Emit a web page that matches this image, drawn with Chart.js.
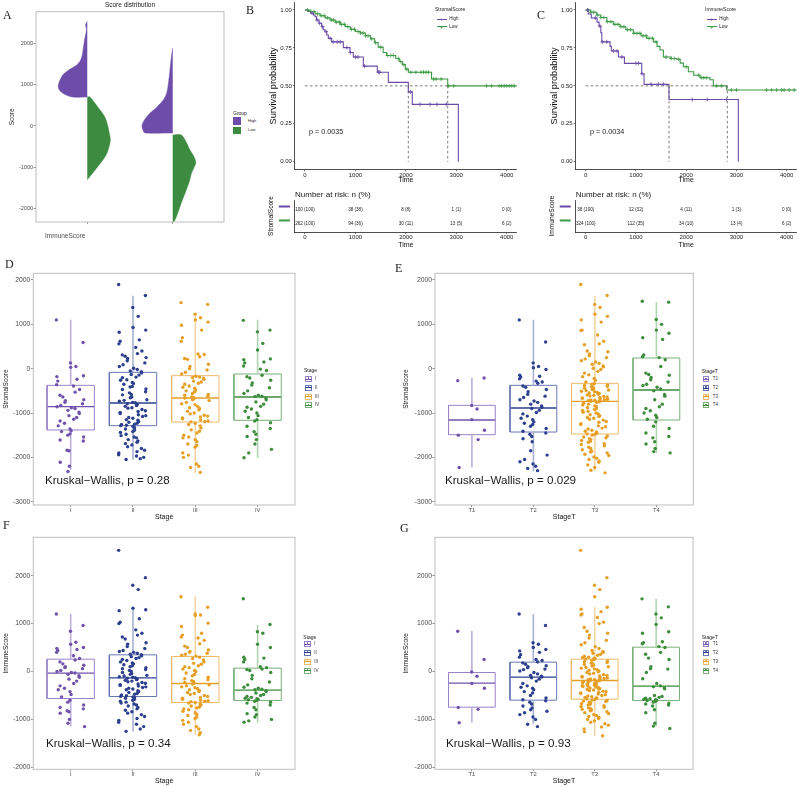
<!DOCTYPE html>
<html lang="en">
<head>
<meta charset="UTF-8">
<title>Score distribution, survival and stage</title>
<style>
  body { margin: 0; background: #fff; font-family: 'Liberation Sans', Arial, sans-serif; }
  #fig { position: relative; width: 799px; height: 787px; overflow: hidden; background: #fff; }
  #fig canvas { position: absolute; }
  .txt { position: absolute; white-space: nowrap; line-height: 1; color: #1a1a1a; }
  .key { position: absolute; box-sizing: border-box; }
</style>
</head>
<body>
<div id="fig"></div>

<script src="https://cdn.jsdelivr.net/npm/chart.js"></script>
<script>
// ---------------- data ----------------
// A: split violins (score level, half width in category units)
const vioCats = ['ImmuneScore', 'StromalScore'];
const v1HighY = [700, 700, 760, 850, 950, 1050, 1150, 1250, 1350, 1450, 1550, 1700, 1900, 2100, 2250, 2350, 2450, 2530];
const v1HighW = [0, .17, .26, .32, .34, .33, .31, .28, .22, .14, .09, .06, .045, .03, .015, .01, .02, 0];
const v1LowY = [700, 700, 550, 385, 200, 0, -200, -337, -500, -660, -800, -990, -1150, -1300];
const v1LowW = [0, .03, .09, .15, .21, .24, .26, .27, .255, .23, .19, .12, .06, 0];
const v2HighY = [-170, -170, -137, 0, 150, 305, 450, 626, 800, 1036, 1300, 1600, 1890];
const v2HighW = [0, .32, .34, .36, .33, .27, .19, .11, .07, .05, .035, .02, 0];
const v2LowY = [-217, -217, -400, -578, -750, -890, -1000, -1140, -1300, -1540, -1860, -2100, -2300, -2330];
const v2LowW = [0, .10, .16, .20, .25, .27, .25, .22, .20, .16, .10, .06, .02, 0];
const vioTicks = [-2000, -1000, 0, 1000, 2000];

// B / C: Kaplan-Meier step points (time, survival)
const kmTicksX = [0, 1000, 2000, 3000, 4000];
const kmTicksY = [0, 0.25, 0.5, 0.75, 1];
const bHighT = [0, 60, 110, 165, 200, 231, 280, 330, 360, 397, 430, 463, 529, 760, 892, 958, 1157, 1434, 1653, 2049, 2128, 3041];
const bHighS = [1, .99, .98, .967, .956, .934, .913, .89, .87, .857, .835, .813, .79, .752, .72, .69, .63, .59, .523, .46, .378, 0];
const bLowT = [0, 100, 200, 300, 400, 500, 600, 700, 800, 900, 1000, 1100, 1200, 1300, 1380, 1450, 1550, 1620, 1800, 1870, 1930, 1990, 2050, 2510, 2830, 4200];
const bLowS = [1, .99, .975, .962, .948, .934, .92, .905, .89, .872, .858, .848, .83, .81, .785, .755, .72, .70, .68, .66, .64, .61, .59, .545, .50, .50];
const bHighCens = [140, 240, 290, 350, 420, 500, 560, 640, 700, 830, 900, 1000, 1050, 1180, 1460, 1480, 2090, 2280, 2480, 2620, 2800];
const bLowCens = [50, 120, 180, 250, 320, 380, 450, 520, 560, 620, 680, 720, 780, 850, 920, 980, 1050, 1100, 1150, 1200, 1250, 1320, 1400, 1500, 1640, 1700, 1750, 1850, 1900, 1960, 2020, 2100, 2200, 2300, 2350, 2400, 2450, 2550, 2600, 2700, 2850, 2950, 3600, 3700, 3850, 3900, 3950, 4000, 4050, 4100, 4150];
const bMedHigh = 2049, bMedLow = 2830;

const cHighT = [0, 50, 110, 225, 265, 300, 320, 484, 510, 650, 770, 1114, 1161, 1658, 3038];
const cHighS = [1, .974, .947, .92, .894, .85, .79, .76, .73, .69, .648, .58, .51, .41, 0];
const cLowT = [0, 100, 219, 300, 418, 550, 683, 800, 948, 1100, 1214, 1347, 1420, 1479, 1546, 1700, 1811, 1880, 1943, 2043, 2150, 2275, 2474, 2540, 2806, 4200];
const cLowS = [1, .985, .967, .95, .923, .905, .89, .87, .846, .83, .813, .79, .76, .736, .69, .68, .675, .65, .626, .593, .57, .554, .54, .50, .473, .473];
const cHighCens = [40, 190, 280, 330, 420, 550, 620, 720, 1000, 1050, 1120, 1300, 1450, 1550, 2120, 2420, 2800];
const cLowCens = [40, 100, 160, 230, 300, 360, 430, 500, 580, 640, 700, 760, 830, 890, 960, 1020, 1080, 1140, 1200, 1260, 1330, 1400, 1600, 1700, 1760, 1850, 2000, 2250, 2300, 2350, 2400, 2600, 2700, 2900, 3000, 3600, 3700, 3800, 3900, 3950, 4050, 4150];
const cMedHigh = 1658, cMedLow = 2819;

// risk tables
const riskTimes = [0, 1000, 2000, 3000, 4000];
const bRiskHighN = [100, 38, 8, 1, 0], bRiskHighPct = [100, 38, 8, 1, 0];
const bRiskLowN = [262, 94, 30, 13, 6], bRiskLowPct = [100, 36, 11, 5, 2];
const cRiskHighN = [38, 12, 4, 1, 0], cRiskHighPct = [100, 32, 11, 3, 0];
const cRiskLowN = [324, 112, 34, 13, 6], cRiskLowPct = [100, 35, 10, 4, 2];

// D-G: box statistics and jittered samples
const stageCats = ['I', 'II', 'III', 'IV'];
const stageTCats = ['T1', 'T2', 'T3', 'T4'];
const deTicks = [-3000, -2000, -1000, 0, 1000, 2000];
const fgTicks = [-2000, -1000, 0, 1000, 2000];

const dLo = [-2278, -2053, -2353, -2015], dQ1 = [-1383, -1286, -1203, -1165], dMed = [-857, -774, -662, -639], dQ3 = [-376, -83, -158, -120], dHi = [1105, 1647, 1256, 1105];
const eLo = [-2226, -2316, -2316, -1902], eQ1 = [-1489, -1429, -1474, -1158], eMed = [-1158, -887, -737, -481], eQ3 = [-827, -376, -331, 241], eHi = [-211, 1105, 1647, 1496];
const fLo = [-1148, -1253, -1322, -1065], fQ1 = [-564, -522, -647, -605], fMed = [-35, -132, -251, -390], fQ3 = [257, 348, 313, 70], fHi = [1204, 1287, 1566, 974];
const gLo = [-1065, -1093, -1343, -1148], gQ1 = [-745, -598, -578, -605], gMed = [-244, -118, -188, -306], gQ3 = [-21, 195, 257, 508], gHi = [849, 1197, 1343, 1517];

const dStageI = [1100, 590, 130, 50, 30, -160, -180, -240, -280, -360, -390, -470, -530, -600, -640, -700, -720, -760, -790, -830, -860, -880, -900, -940, -980, -1010, -1060, -1100, -1140, -1180, -1230, -1290, -1360, -1400, -1420, -1470, -1500, -1540, -1610, -1630, -1840, -1850, -2110, -2200, -2320];
const dStageII = [1900, 1650, 1380, 1180, 930, 870, 820, 650, 620, 560, 480, 400, 340, 310, 280, 250, 230, 180, 130, 90, 50, 10, -20, -50, -70, -95, -130, -145, -190, -205, -250, -262, -310, -335, -350, -400, -415, -460, -470, -520, -545, -580, -590, -640, -655, -700, -715, -735, -760, -770, -790, -805, -830, -850, -880, -890, -920, -950, -965, -990, -1010, -1040, -1060, -1080, -1100, -1120, -1150, -1160, -1190, -1210, -1230, -1250, -1260, -1275, -1285, -1300, -1330, -1360, -1390, -1420, -1440, -1480, -1510, -1540, -1560, -1600, -1630, -1660, -1690, -1720, -1760, -1800, -1840, -1870, -1900, -1940, -1970, -2000, -2030, -2050];
const dStageIII = [1490, 1450, 1230, 1150, 1100, 1050, 980, 870, 700, 620, 330, 320, 270, 230, 210, 100, 50, 0, -30, -80, -120, -170, -190, -200, -215, -240, -280, -300, -330, -350, -390, -420, -440, -480, -500, -520, -560, -580, -600, -620, -640, -650, -660, -680, -700, -720, -760, -790, -810, -850, -880, -900, -930, -960, -1000, -1020, -1050, -1070, -1090, -1110, -1130, -1160, -1180, -1190, -1200, -1230, -1260, -1290, -1340, -1380, -1410, -1450, -1500, -1540, -1560, -1600, -1650, -1700, -1730, -1770, -1900, -1950, -2000, -2150, -2200, -2230, -2340];
const dStageIV = [1090, 870, 830, 570, 420, 220, 200, 150, 130, 60, -10, -40, -150, -180, -210, -260, -320, -370, -430, -500, -560, -600, -620, -630, -660, -700, -750, -800, -850, -870, -910, -960, -1000, -1060, -1100, -1150, -1180, -1220, -1300, -1350, -1420, -1480, -1530, -1600, -1700, -1820, -1900, -2010];

const eT1 = [-270, -210, -830, -910, -1150, -1390, -1500, -1600, -2230];
const eT2 = [1100, 600, 130, 50, 20, -20, -150, -170, -190, -230, -280, -300, -330, -390, -420, -470, -520, -580, -620, -650, -700, -730, -760, -800, -840, -870, -900, -940, -990, -1020, -1070, -1120, -1150, -1200, -1230, -1260, -1300, -1350, -1410, -1450, -1480, -1530, -1580, -1650, -1850, -1950, -2050, -2100, -2150, -2200, -2250, -2300];
const eT3 = [1900, 1650, 1450, 1380, 1230, 1180, 1100, 1050, 870, 860, 760, 620, 560, 540, 400, 380, 330, 290, 250, 220, 180, 150, 120, 100, 60, 40, 10, -20, -60, -100, -140, -180, -220, -260, -300, -340, -350, -365, -380, -395, -410, -425, -440, -455, -470, -480, -495, -510, -520, -535, -550, -560, -575, -590, -600, -615, -625, -640, -650, -660, -670, -680, -690, -700, -705, -710, -720, -725, -730, -735, -745, -760, -780, -800, -820, -840, -860, -880, -900, -920, -940, -960, -985, -1000, -1020, -1040, -1060, -1080, -1100, -1120, -1140, -1160, -1190, -1210, -1240, -1260, -1290, -1310, -1340, -1360, -1390, -1410, -1430, -1450, -1470, -1480, -1500, -1520, -1540, -1560, -1580, -1600, -1620, -1640, -1660, -1690, -1710, -1740, -1770, -1800, -1830, -1860, -1880, -1900, -1930, -1960, -1990, -2020, -2050, -2080, -2110, -2170, -2230, -2290, -2350];
const eT4 = [1520, 1500, 1110, 1000, 870, 800, 700, 660, 310, 270, 250, 200, 50, -100, -130, -150, -200, -250, -300, -350, -380, -420, -460, -500, -580, -620, -700, -800, -860, -900, -950, -1000, -1050, -1100, -1140, -1200, -1300, -1350, -1450, -1530, -1560, -1650, -1700, -1800, -1870, -1900];

const fStageI = [1200, 960, 840, 610, 570, 500, 480, 460, 440, 400, 330, 270, 240, 200, 160, 130, 100, 80, 60, 20, 0, -20, -30, -60, -90, -120, -160, -200, -250, -300, -350, -380, -420, -480, -530, -600, -640, -700, -750, -780, -820, -840, -870, -1000, -1080, -1150];
const fStageII = [2530, 1960, 1800, 1710, 1320, 1290, 1270, 1100, 1030, 1000, 870, 800, 760, 720, 680, 600, 570, 520, 480, 440, 420, 400, 380, 360, 350, 330, 310, 290, 270, 250, 230, 200, 180, 160, 140, 120, 100, 80, 60, 40, 20, 0, -20, -40, -60, -80, -95, -110, -120, -130, -140, -155, -170, -185, -200, -215, -230, -245, -260, -275, -290, -305, -320, -335, -350, -365, -380, -400, -420, -440, -460, -475, -490, -505, -520, -530, -545, -560, -580, -600, -620, -640, -660, -680, -700, -720, -750, -780, -810, -840, -870, -900, -940, -980, -1020, -1060, -1100, -1150, -1200, -1250];
const fStageIII = [1560, 1340, 1200, 1180, 1170, 1010, 940, 800, 760, 720, 700, 650, 580, 530, 500, 450, 420, 400, 380, 360, 340, 320, 300, 270, 240, 200, 170, 150, 120, 100, 80, 50, 20, 0, -30, -60, -90, -120, -150, -170, -190, -210, -230, -245, -260, -280, -300, -320, -340, -360, -380, -400, -420, -440, -460, -480, -500, -520, -540, -560, -580, -600, -610, -620, -630, -645, -660, -680, -700, -720, -740, -760, -780, -800, -830, -860, -890, -920, -950, -980, -1020, -1060, -1100, -1150, -1200, -1230, -1280, -1320];
const fStageIV = [1520, 980, 830, 800, 570, 500, 300, 280, 250, 200, 100, 80, 50, 40, 20, -20, -80, -150, -220, -280, -330, -350, -370, -380, -400, -420, -450, -480, -500, -520, -540, -560, -570, -580, -590, -600, -620, -640, -660, -700, -750, -800, -880, -900, -950, -1000, -1030, -1060];

const gT1 = [840, 250, -10, -100, -250, -350, -750, -790, -1070];
const gT2 = [1200, 960, 600, 570, 500, 460, 430, 400, 350, 300, 250, 230, 200, 180, 150, 120, 100, 80, 50, 40, 10, -20, -50, -80, -100, -115, -130, -160, -200, -250, -300, -330, -350, -380, -420, -450, -500, -550, -590, -610, -640, -680, -720, -760, -800, -830, -860, -900, -950, -1000, -1100, -1150];
const gT3 = [2530, 1960, 1800, 1710, 1560, 1340, 1300, 1250, 1200, 1180, 1130, 1030, 1000, 920, 840, 800, 760, 700, 650, 600, 560, 520, 480, 440, 420, 400, 380, 360, 340, 320, 300, 290, 280, 270, 260, 250, 235, 220, 205, 190, 175, 160, 145, 130, 115, 100, 85, 70, 55, 40, 25, 10, -5, -20, -35, -50, -65, -80, -95, -105, -115, -125, -135, -145, -155, -165, -170, -175, -180, -185, -195, -205, -215, -225, -235, -245, -255, -265, -275, -285, -295, -305, -315, -325, -335, -345, -355, -365, -375, -385, -400, -410, -420, -435, -450, -460, -470, -485, -500, -510, -525, -540, -550, -560, -575, -585, -595, -605, -615, -625, -640, -655, -670, -685, -700, -715, -730, -745, -760, -775, -790, -805, -820, -840, -860, -880, -900, -920, -940, -960, -980, -1000, -1030, -1060, -1090, -1120, -1160, -1200, -1260, -1340];
const gT4 = [1517, 1350, 1200, 1120, 980, 830, 800, 620, 600, 580, 520, 500, 400, 360, 280, 250, 100, 60, 50, -20, -150, -250, -300, -320, -340, -360, -500, -520, -540, -560, -570, -580, -590, -600, -605, -620, -640, -660, -680, -700, -720, -800, -860, -1080, -1140, -1190];

// ---------------- styles ----------------
const purple = '#6E4DAA', green = '#3C8B40';
const kmHigh = '#6B4BA8', kmLow = '#3F9A47';
const pointColors = ['#7052AC', '#2C3F8E', '#E69F25', '#3C8C3C'];
const boxColors = ['#9883C7', '#6877B3', '#EDBA6A', '#78B278'];
const whiskerColors = ['#BBAEDC', '#A7B1D4', '#F3D4A2', '#B0D4B0'];
const frameGrey = '#BDBDBD';
const BW = 0.38;

Chart.defaults.font.family = "'Liberation Sans', Arial, sans-serif";
Chart.defaults.animation = false;
Chart.defaults.plugins.legend.display = false;
Chart.defaults.plugins.tooltip.enabled = false;

const fig = document.getElementById('fig');

function addText(txt, x, y, size, o = {}) {
  const d = document.createElement('div');
  d.className = 'txt';
  d.textContent = txt;
  d.style.left = x + 'px';
  d.style.top = y + 'px';
  d.style.fontSize = size + 'px';
  if (o.color) d.style.color = o.color;
  if (o.serif) d.style.fontFamily = "'Liberation Serif', 'DejaVu Serif', serif";
  d.style.transform = `translate(${o.center ? '-50%' : '0'}, -50%)`;
  fig.appendChild(d);
  return d;
}

function addBox(x, y, w, h, css) {
  const d = document.createElement('div');
  d.className = 'key';
  Object.assign(d.style, { left: x + 'px', top: y + 'px', width: w + 'px', height: h + 'px' }, css);
  fig.appendChild(d);
  return d;
}

function makeCanvas(b) {
  const c = document.createElement('canvas');
  c.width = b.w; c.height = b.h;
  Object.assign(c.style, { left: b.left + 'px', top: b.top + 'px', width: b.w + 'px', height: b.h + 'px' });
  fig.appendChild(c);
  return c;
}

// b = canvas box + wanted plot area (page coords)
function layoutFor(b) {
  return { autoPadding: false, padding: { left: 0, top: b.aT - b.top, right: b.left + b.w - b.aR, bottom: 0 } };
}

function axis(o) {
  return {
    type: 'linear', min: o.min, max: o.max, reverse: !!o.reverse,
    afterBuildTicks: s => { s.ticks = o.ticks.map(v => ({ value: v })); },
    afterFit: s => { if (o.horizontal) s.height = o.size; else s.width = o.size; },
    ticks: { display: o.labels !== false, font: { size: o.font || 6 }, color: o.color || '#4d4d4d', padding: o.pad ?? 0.5,
             autoSkip: false, maxRotation: 0, callback: o.fmt || (v => v) },
    grid: { display: true, drawOnChartArea: false, drawTicks: true, tickLength: o.tick ?? 2.5, color: o.tickColor || '#4d4d4d', lineWidth: 0.6 },
    border: o.border ? { display: true, color: '#222', width: 0.8 } : { display: false },
    title: o.title ? { display: true, text: o.title, font: { size: o.titleSize || 7 }, color: '#111',
                       padding: { top: o.tpad || 0, bottom: o.tpad || 0 } } : { display: false }
  };
}

function framePlugin(color) {
  return { id: 'frame', afterDraw(chart) {
    const a = chart.chartArea, ctx = chart.ctx;
    ctx.save(); ctx.strokeStyle = color; ctx.lineWidth = 1;
    ctx.strokeRect(a.left, a.top, a.right - a.left, a.bottom - a.top);
    ctx.restore();
  } };
}

function line(data, color, width, extra = {}) {
  return Object.assign({ data, showLine: true, borderColor: color, borderWidth: width, pointRadius: 0,
                         borderJoinStyle: 'miter', order: 1 }, extra);
}

// ---------------- A: score distribution ----------------
function halfViolin(c, ys, ws, side, color) {
  return { data: ys.map((y, i) => ({ x: c + side * ws[i], y })), showLine: true, fill: 'shape',
           backgroundColor: color, borderColor: color, borderWidth: 0.5, pointRadius: 0, tension: 0.3 };
}

{
  const b = { left: 0, top: -6, w: 232, h: 252, aL: 36, aR: 224, aT: 11.7, aB: 222 };
  new Chart(makeCanvas(b), {
    type: 'scatter',
    data: { datasets: [
      halfViolin(1, v1HighY, v1HighW, -1, purple),
      halfViolin(1, v1LowY, v1LowW, 1, green),
      halfViolin(2, v2HighY, v2HighW, -1, purple),
      halfViolin(2, v2LowY, v2LowW, 1, green)
    ] },
    options: {
      responsive: false, devicePixelRatio: 1, layout: layoutFor(b),
      scales: {
        x: axis({ min: 0.4, max: 2.6, ticks: [1, 2], horizontal: true, size: b.top + b.h - b.aB, labels: false, tick: 2 }),
        y: axis({ min: -2323, max: 2765, ticks: vioTicks, size: b.aL - b.left, font: 5.5, title: 'Score', titleSize: 6.4, tpad: 8.6 })
      }
    },
    plugins: [framePlugin(frameGrey)]
  });
  addText('Score distribution', 130, 5, 6.5, { center: true });
  addText(vioCats[0], 45, 236, 6.5, { color: '#4d4d4d' });
  addText('Group', 233, 113, 5);
  addBox(233.3, 117.3, 7.4, 7.7, { background: purple });
  addBox(233.3, 126.7, 7.4, 7.7, { background: green });
  addText('High', 248, 121.3, 4);
  addText('Low', 248, 130.3, 4);
}

// ---------------- B / C: survival ----------------
function stepAt(ts, ss, t) {
  let s = ss[0];
  for (let i = 0; i < ts.length; i++) if (ts[i] <= t) s = ss[i];
  return s;
}

function kmPanel(b, highT, highS, lowT, lowS, highC, lowC, medHigh, medLow) {
  const curve = (T, S, color) => line(T.map((t, i) => ({ x: t, y: S[i] })), color, 1.1, { stepped: true, borderJoinStyle: 'miter' });
  const cens = (C, T, S, color) => ({ data: C.map(t => ({ x: t, y: stepAt(T, S, t) })), pointStyle: 'cross',
                                      pointRadius: 2, borderColor: color, borderWidth: 0.8, order: 0 });
  const dash = (pts) => line(pts, '#555', 0.8, { borderDash: [2.5, 2.5] });
  new Chart(makeCanvas(b), {
    type: 'scatter',
    data: { datasets: [
      cens(highC, highT, highS, kmHigh),
      cens(lowC, lowT, lowS, kmLow),
      dash([{ x: 0, y: 0.5 }, { x: medLow, y: 0.5 }]),
      dash([{ x: medHigh, y: 0.5 }, { x: medHigh, y: 0 }]),
      dash([{ x: medLow, y: 0.5 }, { x: medLow, y: 0 }]),
      curve(lowT, lowS, kmLow),
      curve(highT, highS, kmHigh)
    ] },
    options: {
      responsive: false, devicePixelRatio: 1, layout: layoutFor(b),
      scales: {
        x: axis({ min: -200, max: 4200, ticks: kmTicksX, horizontal: true, size: b.top + b.h - b.aB, font: 6, color: '#222',
                  tick: 2, pad: 0, tickColor: '#222', border: true, title: 'Time', titleSize: 7, tpad: 1.8 }),
        y: axis({ min: -0.05, max: 1.05, ticks: kmTicksY, size: b.aL - b.left, font: 6, color: '#222', tick: 2, pad: 1,
                  tickColor: '#222', border: true, fmt: v => v.toFixed(2), title: 'Survival probability', titleSize: 9.2, tpad: 6 })
      }
    }
  });
}

function riskPanel(b, rows, yTitle) {
  const risk = { id: 'risk', afterDatasetsDraw(chart) {
    const { ctx, chartArea } = chart, x = chart.scales.x, y = chart.scales.y;
    ctx.save();
    ctx.font = "4.6px 'Liberation Sans', Arial, sans-serif";
    ctx.textAlign = 'center'; ctx.textBaseline = 'middle';
    rows.forEach((r, ri) => {
      const py = y.getPixelForValue(ri + 1);
      ctx.fillStyle = '#222';
      riskTimes.forEach((t, i) => ctx.fillText(`${r.n[i]} (${r.pct[i]})`, x.getPixelForValue(t), py));
      ctx.strokeStyle = r.color; ctx.lineWidth = 2;
      ctx.beginPath(); ctx.moveTo(chartArea.left - 16, py - 3); ctx.lineTo(chartArea.left - 5, py - 3); ctx.stroke();
    });
    ctx.restore();
  } };
  new Chart(makeCanvas(b), {
    type: 'scatter',
    data: { datasets: [{ data: [] }] },
    options: {
      responsive: false, devicePixelRatio: 1, layout: layoutFor(b),
      scales: {
        x: axis({ min: -200, max: 4200, ticks: riskTimes, horizontal: true, size: b.top + b.h - b.aB, font: 6, color: '#222',
                  tick: 2, pad: 0, tickColor: '#222', border: true, title: 'Time', titleSize: 7, tpad: 0.8 }),
        y: axis({ min: 0.32, max: 2.61, reverse: true, ticks: [], size: b.aL - b.left, labels: false, tick: 0,
                  border: true, title: yTitle, titleSize: 6.6, tpad: 5.6 })
      }
    },
    plugins: [risk]
  });
}

function kmLegend(x, title) {
  addText(title, x, 9.3, 5);
  [[19, 'High', kmHigh], [26.7, 'Low', kmLow]].forEach(([y, lab, col]) => {
    addBox(x + 1.7, y - 0.5, 10, 1, { background: col });
    addText('+', x + 6.7, y, 6, { center: true, color: col });
    addText(lab, x + 14.3, y, 4.5);
  });
}

kmPanel({ left: 262, top: -6, w: 262, h: 192, aL: 294.9, aR: 516.8, aT: 2.4, aB: 169.3 },
        bHighT, bHighS, bLowT, bLowS, bHighCens, bLowCens, bMedHigh, bMedLow);
kmPanel({ left: 543, top: -6, w: 256, h: 192, aL: 575.7, aR: 796.7, aT: 2.4, aB: 169.3 },
        cHighT, cHighS, cLowT, cLowS, cHighCens, cLowCens, cMedHigh, cMedLow);
riskPanel({ left: 262, top: 186, w: 262, h: 64, aL: 294.9, aR: 516.8, aT: 200, aB: 232 },
          [{ n: bRiskHighN, pct: bRiskHighPct, color: kmHigh }, { n: bRiskLowN, pct: bRiskLowPct, color: kmLow }], 'StromalScore');
riskPanel({ left: 543, top: 186, w: 256, h: 64, aL: 575.7, aR: 796.7, aT: 200, aB: 232 },
          [{ n: cRiskHighN, pct: cRiskHighPct, color: kmHigh }, { n: cRiskLowN, pct: cRiskLowPct, color: kmLow }], 'ImmuneScore');
kmLegend(435, 'StromalScore');
kmLegend(705, 'ImmuneScore');
addText('p = 0.0035', 309, 131.7, 7.2);
addText('p = 0.0034', 590, 131.7, 7.2);
addText('Number at risk: n (%)', 295, 195, 8);
addText('Number at risk: n (%)', 575.7, 195, 8);

// ---------------- D-G: box plots with jitter ----------------
// horizontal spread of the points around their category (layout only, not data)
const jitter = i => (((i * 0.6180339887 + i * i * 0.3141592) % 1) - 0.5) * 0.46;

function boxPanel(b, cats, groups, lo, q1, med, q3, hi, yMin, yMax, yTicks, yTitle, xTitle) {
  const ds = [];
  groups.forEach((vals, g) => {
    ds.push({ data: vals.map((v, i) => ({ x: g + 1 + jitter(i), y: v })), backgroundColor: pointColors[g],
              borderWidth: 0, pointRadius: 1.7, order: 0 });
  });
  cats.forEach((c, g) => {
    const x = g + 1;
    ds.push(line([{ x, y: q3[g] }, { x, y: hi[g] }, { x, y: null }, { x, y: q1[g] }, { x, y: lo[g] }], whiskerColors[g], 1.6));
    ds.push(line([{ x: x - BW, y: q1[g] }, { x: x + BW, y: q1[g] }, { x: x + BW, y: q3[g] }, { x: x - BW, y: q3[g] },
                  { x: x - BW, y: q1[g] }], boxColors[g], 1));
    ds.push(line([{ x: x - BW, y: med[g] }, { x: x + BW, y: med[g] }], pointColors[g], 1.3));
  });
  new Chart(makeCanvas(b), {
    type: 'scatter',
    data: { datasets: ds },
    options: {
      responsive: false, devicePixelRatio: 1, layout: layoutFor(b),
      scales: {
        x: axis({ min: 0.4, max: 4.6, ticks: [1, 2, 3, 4], horizontal: true, size: b.top + b.h - b.aB, font: 5.8,
                  tick: 2, pad: 0, fmt: v => cats[v - 1], title: xTitle, titleSize: 7, tpad: 2 }),
        y: axis({ min: yMin, max: yMax, ticks: yTicks, size: b.aL - b.left, font: 6.8, tick: 2.5, pad: 0.5,
                  title: yTitle, titleSize: 6.5, tpad: 2.1 })
      }
    },
    plugins: [framePlugin(frameGrey)]
  });
}

function boxLegend(x, titleY, rowsY, title, cats) {
  addText(title, x, titleY, 5);
  cats.forEach((c, g) => {
    addBox(x + 1, rowsY[g] - 3, 6.7, 6, { border: `1px solid ${boxColors[g]}` });
    addBox(x + 1, rowsY[g] - 0.5, 6.7, 1, { background: pointColors[g] });
    addBox(x + 3.5, rowsY[g] - 1.7, 1.7, 1.7, { background: pointColors[g], borderRadius: '1px' });
    addText(c, x + 11, rowsY[g], 4.5, { color: '#333' });
  });
}

boxPanel({ left: 0, top: 258, w: 300, h: 265, aL: 33.3, aR: 295, aT: 273.3, aB: 505 }, stageCats,
         [dStageI, dStageII, dStageIII, dStageIV], dLo, dQ1, dMed, dQ3, dHi, -3075, 2151, deTicks, 'StromalScore', 'Stage');
boxPanel({ left: 400, top: 258, w: 300, h: 265, aL: 435, aR: 693.3, aT: 273.3, aB: 505 }, stageTCats,
         [eT1, eT2, eT3, eT4], eLo, eQ1, eMed, eQ3, eHi, -3075, 2151, deTicks, 'StromalScore', 'StageT');
boxPanel({ left: 0, top: 522, w: 300, h: 265, aL: 33.3, aR: 295, aT: 537.3, aB: 769.3 }, stageCats,
         [fStageI, fStageII, fStageIII, fStageIV], fLo, fQ1, fMed, fQ3, fHi, -2042, 2802, fgTicks, 'ImmuneScore', 'Stage');
boxPanel({ left: 400, top: 522, w: 300, h: 265, aL: 435, aR: 693, aT: 537.3, aB: 769.3 }, stageTCats,
         [gT1, gT2, gT3, gT4], gLo, gQ1, gMed, gQ3, gHi, -2042, 2802, fgTicks, 'ImmuneScore', 'StageT');

boxLegend(304, 370, [379, 387.7, 396.7, 405.3], 'Stage', stageCats);
boxLegend(701.7, 371, [379.3, 388, 396.7, 405.3], 'StageT', stageTCats);
boxLegend(303.3, 636.5, [644, 652.7, 661.7, 670.7], 'Stage', stageCats);
boxLegend(701.7, 636.5, [644, 652.7, 661.7, 670.7], 'StageT', stageTCats);

addText('Kruskal\u2212Wallis, p = 0.28', 45, 480, 11.6);
addText('Kruskal\u2212Wallis, p = 0.029', 445, 480, 11.6);
addText('Kruskal\u2212Wallis, p = 0.34', 46, 743.3, 11.6);
addText('Kruskal\u2212Wallis, p = 0.93', 446, 743.3, 11.6);

// panel letters
[['A', 3, 15], ['B', 246, 10], ['C', 537, 15], ['D', 5, 264], ['E', 395, 268], ['F', 3, 525], ['G', 400, 528]]
  .forEach(([t, x, y]) => addText(t, x, y, 12, { serif: true, color: '#222' }));
</script>
</body>
</html>
